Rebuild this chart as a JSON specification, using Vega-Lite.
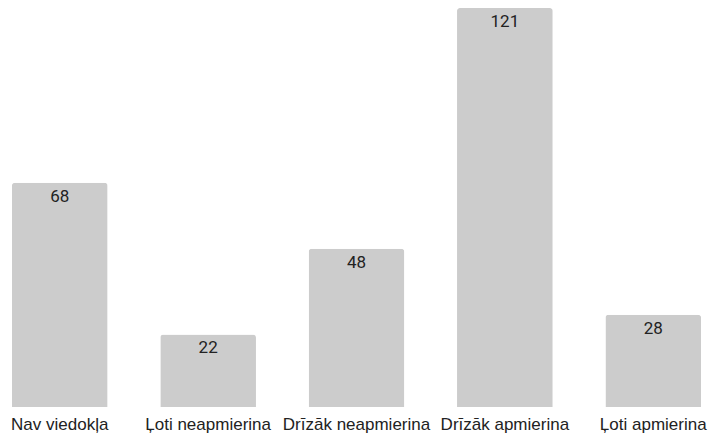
{
  "$schema": "https://vega.github.io/schema/vega-lite/v6.json",
  "autosize": {"type": "none"},
  "width": 707,
  "height": 399,
  "padding": {"left": 3, "top": 8, "right": 0, "bottom": 30},
  "background": "white",
  "config": {"view": {"stroke": null}},
  "data": {"values": [
    {"category": "Nav viedokļa", "value": 68},
    {"category": "Ļoti neapmierina", "value": 22},
    {"category": "Drīzāk neapmierina", "value": 48},
    {"category": "Drīzāk apmierina", "value": 121},
    {"category": "Ļoti apmierina", "value": 28}
  ]},
  "encoding": {
    "x": {"field": "category", "type": "nominal", "sort": null,
      "scale": {"paddingInner": 0.355, "paddingOuter": 0.06},
      "axis": {"title": null, "labelAngle": 0, "domain": false, "ticks": false, "labelPadding": 9,
        "labelFont": "Liberation Sans", "labelFontSize": 17, "labelColor": "#222222"}},
    "y": {"field": "value", "type": "quantitative", "scale": {"domain": [0, 121], "nice": false}, "axis": null}
  },
  "layer": [
    {"mark": {"type": "bar", "color": "#cccccc", "cornerRadiusTopLeft": 3, "cornerRadiusTopRight": 3}},
    {"mark": {"type": "text", "baseline": "top", "dy": 6, "font": "Roboto", "fontSize": 17, "color": "#222222"},
     "encoding": {"text": {"field": "value", "type": "quantitative"}}}
  ]
}
